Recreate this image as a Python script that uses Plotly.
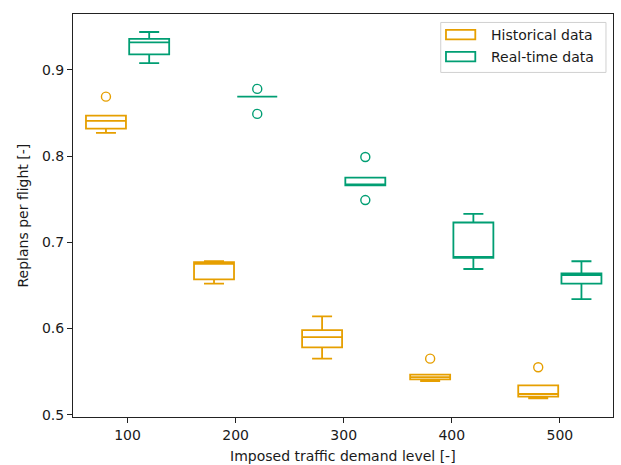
import plotly.graph_objects as go

# Demand levels and the offset positions of the two box groups
demand_levels = [100, 200, 300, 400, 500]
hist_positions = [80, 180, 280, 380, 480]
rt_positions = [120, 220, 320, 420, 520]

# Historical data: box statistics per demand level
hist_lower = [0.827, 0.652, 0.565, 0.539, 0.519]
hist_q1 = [0.832, 0.657, 0.578, 0.541, 0.521]
hist_median = [0.841, 0.675, 0.590, 0.5435, 0.524]
hist_q3 = [0.847, 0.677, 0.598, 0.5465, 0.534]
hist_upper = [0.847, 0.678, 0.614, 0.5465, 0.534]
hist_out_x = [80, 380, 480]
hist_out_y = [0.869, 0.565, 0.555]

# Real-time data: box statistics per demand level
rt_lower = [0.908, 0.869, 0.766, 0.669, 0.634]
rt_q1 = [0.918, 0.869, 0.766, 0.682, 0.652]
rt_median = [0.932, 0.869, 0.767, 0.682, 0.662]
rt_q3 = [0.936, 0.869, 0.775, 0.723, 0.664]
rt_upper = [0.944, 0.869, 0.775, 0.733, 0.678]
rt_out_x = [220, 220, 320, 320]
rt_out_y = [0.878, 0.849, 0.799, 0.749]

series_names = ["Historical data", "Real-time data"]
x_title = "Imposed traffic demand level [-]"
y_title = "Replans per flight [-]"

ORANGE = "#E69F00"
GREEN = "#009E73"
FONT = "DejaVu Sans"
TXT = "#1a1a1a"

fig = go.Figure()

for name, color, pos, lo, q1, med, q3, hi in [
    (series_names[0], ORANGE, hist_positions, hist_lower, hist_q1,
     hist_median, hist_q3, hist_upper),
    (series_names[1], GREEN, rt_positions, rt_lower, rt_q1,
     rt_median, rt_q3, rt_upper),
]:
    fig.add_trace(go.Box(
        name=name,
        x=pos,
        lowerfence=lo,
        q1=q1,
        median=med,
        q3=q3,
        upperfence=hi,
        width=37,
        whiskerwidth=0.5,
        line=dict(color=color, width=1.8),
        fillcolor="rgba(255,255,255,0)",
        boxpoints=False,
        hoverinfo="skip",
        showlegend=False,
    ))

for color, ox, oy in [(ORANGE, hist_out_x, hist_out_y), (GREEN, rt_out_x, rt_out_y)]:
    fig.add_trace(go.Scatter(
        x=ox, y=oy, mode="markers", showlegend=False, hoverinfo="skip",
        marker=dict(symbol="circle-open", size=9, color=color,
                    line=dict(color=color, width=1.4)),
    ))

# Legend drawn as a framed panel with wide rectangular keys (paper coords)
fig.add_shape(type="rect", xref="paper", yref="paper",
              x0=0.681, x1=0.987, y0=0.855, y1=0.979,
              line=dict(color="#d0d0d0", width=1),
              fillcolor="rgba(255,255,255,0.8)", layer="above")
for i, (label, color) in enumerate(zip(series_names, [ORANGE, GREEN])):
    yc = 0.9488 - i * 0.0545
    fig.add_shape(type="rect", xref="paper", yref="paper",
                  x0=0.6907, x1=0.7450, y0=yc - 0.0118, y1=yc + 0.0118,
                  line=dict(color=color, width=1.8),
                  fillcolor="rgba(255,255,255,0)", layer="above")
    fig.add_annotation(text=label, xref="paper", yref="paper",
                       x=0.771, y=yc, xanchor="left", yanchor="middle",
                       showarrow=False,
                       font=dict(family=FONT, size=14, color=TXT))

# Axis titles placed at fixed offsets from the plot frame
fig.add_annotation(text=x_title, xref="paper", yref="paper", x=0.5, y=0,
                   xanchor="center", yanchor="middle", yshift=-39,
                   showarrow=False, font=dict(family=FONT, size=14, color=TXT))
fig.add_annotation(text=y_title, xref="paper", yref="paper", x=0, y=0.5,
                   xanchor="center", yanchor="middle", xshift=-51,
                   textangle=-90, showarrow=False,
                   font=dict(family=FONT, size=14, color=TXT))

axis_common = dict(
    showgrid=False, zeroline=False, showline=True, mirror=True,
    linecolor="#222", linewidth=1, ticks="outside", ticklen=5,
    tickwidth=1, tickcolor="#222", automargin=False,
    tickfont=dict(family=FONT, size=14, color=TXT),
)

fig.update_layout(
    width=621, height=465,
    margin=dict(l=73, r=8, t=14, b=48),
    paper_bgcolor="white", plot_bgcolor="white",
    boxmode="overlay",
    showlegend=False,
    font=dict(family=FONT, size=14, color=TXT),
    xaxis=dict(
        range=[49.5, 549.2], tickvals=demand_levels,
        ticktext=[str(v) for v in demand_levels],
        **axis_common,
    ),
    yaxis=dict(
        range=[0.4973, 0.9649], tick0=0.5, dtick=0.1, tickformat=".1f",
        **axis_common,
    ),
)

fig.write_html("out.html")
